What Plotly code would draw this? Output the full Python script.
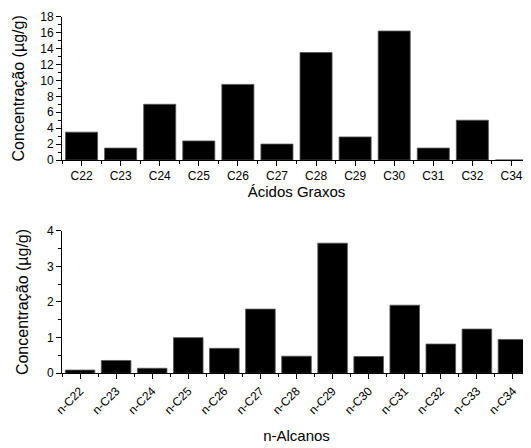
import plotly.graph_objects as go

acid_labels = ["C22", "C23", "C24", "C25", "C26", "C27", "C28", "C29", "C30", "C31", "C32", "C34"]
acid_values = [3.5, 1.5, 7.0, 2.4, 9.5, 2.0, 13.5, 2.9, 16.2, 1.5, 5.0, 0.0]

alkane_labels = ["n-C22", "n-C23", "n-C24", "n-C25", "n-C26", "n-C27", "n-C28",
                 "n-C29", "n-C30", "n-C31", "n-C32", "n-C33", "n-C34"]
alkane_values = [0.09, 0.36, 0.14, 1.0, 0.70, 1.80, 0.48, 3.65, 0.47, 1.91, 0.82, 1.24, 0.95]

FONT = "Liberation Sans, Arial, sans-serif"

fig = go.Figure()
xa = list(range(len(acid_labels)))
xb = list(range(len(alkane_labels)))

fig.add_trace(go.Bar(x=xa, y=acid_values, marker=dict(color="black", line=dict(color="#555", width=0.8)),
                     xaxis="x", yaxis="y", width=0.82, showlegend=False))
fig.add_trace(go.Bar(x=xb, y=alkane_values, marker=dict(color="black", line=dict(color="#555", width=0.8)),
                     xaxis="x2", yaxis="y2", width=0.82, showlegend=False))

common_axis = dict(showgrid=False, zeroline=False, showline=True, linecolor="black", linewidth=1,
                   ticks="outside", ticklen=5, tickwidth=1, tickcolor="black", automargin=False,
                   tickfont=dict(family=FONT, size=12, color="black"))

fig.update_layout(
    width=523, height=440,
    margin=dict(l=54, r=0, t=0, b=0),
    plot_bgcolor="white", paper_bgcolor="white",
    font=dict(family=FONT, color="black"),
    bargap=0.18,
    xaxis=dict(common_axis, domain=[0, 1], anchor="y", range=[-0.5, 11.5],
               tickmode="array", tickvals=xa, ticktext=acid_labels,
               minor=dict(tickmode="array", tickvals=[i - 0.5 for i in range(len(acid_labels) + 1)],
                          ticks="outside", ticklen=3, tickcolor="black", tickwidth=1),
               title=dict(text="Ácidos Graxos", font=dict(family=FONT, size=15), standoff=1)),
    yaxis=dict(common_axis, domain=[0.6545, 0.9802], anchor="x", range=[0, 18],
               tickmode="linear", tick0=0, dtick=2,
               minor=dict(dtick=1, ticks="outside", ticklen=3, tickcolor="black", tickwidth=1),
               title=dict(text="Concentração (µg/g)", font=dict(family=FONT, size=16), standoff=11)),
    xaxis2=dict(common_axis, domain=[0, 1], anchor="y2", range=[-0.5, 12.5],
                tickmode="array", tickvals=xb, ticktext=alkane_labels, tickangle=-45,
                minor=dict(tickmode="array", tickvals=[i - 0.5 for i in range(len(alkane_labels) + 1)],
                           ticks="outside", ticklen=3, tickcolor="black", tickwidth=1),
                title=dict(text="n-Alcanos", font=dict(family=FONT, size=15), standoff=14)),
    yaxis2=dict(common_axis, domain=[0.1698, 0.4939], anchor="x2", range=[0, 4],
                tickmode="linear", tick0=0, dtick=1,
                minor=dict(dtick=0.5, ticks="outside", ticklen=3, tickcolor="black", tickwidth=1),
                title=dict(text="Concentração (µg/g)", font=dict(family=FONT, size=16), standoff=14)),
)

fig.write_html("out.html")
